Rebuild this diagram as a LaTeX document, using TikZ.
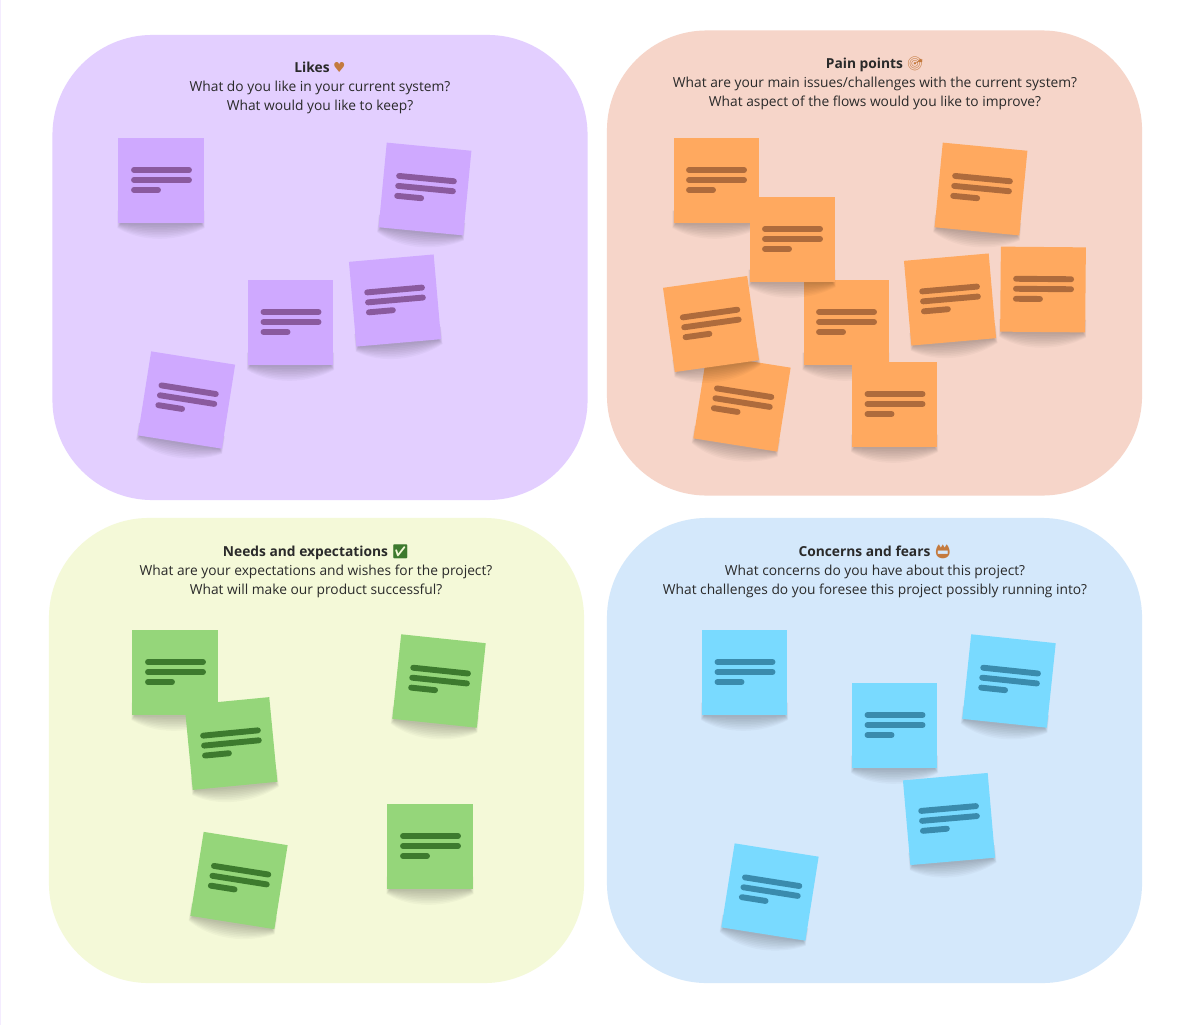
\documentclass[tikz,border=0pt]{standalone}
\usepackage{fontspec}
\setmainfont{Open Sans}
\newfontfamily\emojifont{Noto Emoji}
\newfontfamily\symbolfont{DejaVu Sans}
\definecolor{likesbg}{HTML}{E3CFFF}
\definecolor{likesnote}{HTML}{CFA9FF}
\definecolor{likesline}{HTML}{8A5A9E}
\definecolor{painbg}{HTML}{F6D5C9}
\definecolor{painnote}{HTML}{FFA95F}
\definecolor{painline}{HTML}{AE6B3C}
\definecolor{needsbg}{HTML}{F4F9D8}
\definecolor{needsnote}{HTML}{95D67A}
\definecolor{needsline}{HTML}{3D7A2E}
\definecolor{fearsbg}{HTML}{D4E8FB}
\definecolor{fearsnote}{HTML}{79DAFF}
\definecolor{fearsline}{HTML}{3A8BAD}
\definecolor{inktext}{HTML}{2A2A2A}
\definecolor{emojibrown}{HTML}{C47A3E}
\tikzset{
  panel/.style={minimum width=13.375cm,minimum height=11.625cm,rounded corners=2.5cm,inner sep=0pt},
  paneltext/.style={align=center,font=\fontsize{9.8}{13.5}\selectfont,text=inktext},
  stickynote/.style={minimum size=2.125cm,inner sep=0pt,transform shape},
  noteline/.style={line width=4.2pt,line cap=round}
}
% name, centre x, centre y, angle, colour family
\newcommand{\sticky}[5]{
  \begin{scope}[shift={(#2,#3)},rotate=#4]
    \foreach \spread in {1,...,9}
      \fill[black,opacity=0.028] (-40-\spread*0.4,30) -- (40+\spread*0.4,30) -- (40+\spread*0.4,43+\spread*0.5)
        .. controls (18,43+\spread*2) and (-18,43+\spread*2.2) .. (-40-\spread*0.4,43+\spread*0.5) -- cycle;
    \node[stickynote,fill=#5note] (#1) at (0,0) {};
    \draw[noteline,#5line] (-27,-10.5) -- (28,-10.5);
    \draw[noteline,#5line] (-27,-0.5) -- (28,-0.5);
    \draw[noteline,#5line] (-27,9.5) -- (-3,9.5);
  \end{scope}
}
\begin{document}
\begin{tikzpicture}[x=0.025cm,y=-0.025cm]
  \useasboundingbox (0,0) rectangle (1200,1025);
  \fill[white] (0,0) rectangle (1200,1025);
  \fill[likesbg!40] (0,0) rectangle (1,1025);

  \node[panel,fill=likesbg] (likes) at (320,267.5) {};
  \node[panel,fill=painbg] (pain) at (874.5,263) {};
  \node[panel,fill=needsbg] (needs) at (316.5,750.5) {};
  \node[panel,fill=fearsbg] (fears) at (874.5,750.5) {};

  \node[paneltext] (likestext) at (320,88) {\textbf{Likes} {\symbolfont\textcolor{emojibrown}{\symbol{"2665}}}\\
    What do you like in your current system?\\What would you like to keep?};
  \node[paneltext] (paintext) at (875,83) {\textbf{Pain points} {\emojifont\textcolor{emojibrown}{\symbol{"1F3AF}}}\\
    What are your main issues/challenges with the current system?\\What aspect of the flows would you like to improve?};
  \node[paneltext] (needstext) at (316,571) {\textbf{Needs and expectations} {\emojifont\textcolor{needsline}{\symbol{"2705}}}\\
    What are your expectations and wishes for the project?\\What will make our product successful?};
  \node[paneltext] (fearstext) at (875,571) {\textbf{Concerns and fears} {\emojifont\textcolor{emojibrown}{\symbol{"1F4DB}}}\\
    What concerns do you have about this project?\\What challenges do you foresee this project possibly running into?};

  % likes
  \sticky{likesa}{161}{180.5}{0}{likes}
  \sticky{likesb}{425}{189}{-5.5}{likes}
  \sticky{likesc}{290.5}{322.5}{0}{likes}
  \sticky{likesd}{395}{300.5}{5}{likes}
  \sticky{likese}{186.5}{400}{-9}{likes}

  % pain points
  \sticky{paina}{716}{180.5}{0}{pain}
  \sticky{painb}{981}{189}{-5.5}{pain}
  \sticky{painc}{846}{322.5}{0}{pain}
  \sticky{paind}{792}{239.5}{0}{pain}
  \sticky{paine}{950}{299.5}{5}{pain}
  \sticky{painf}{1043}{289.5}{-0.5}{pain}
  \sticky{paing}{742}{403}{-9}{pain}
  \sticky{painh}{711}{324}{8}{pain}
  \sticky{paini}{894.5}{404.5}{0}{pain}

  % needs
  \sticky{needsa}{175}{672.5}{0}{needs}
  \sticky{needsb}{231}{743.5}{5.5}{needs}
  \sticky{needsc}{439}{681}{-6}{needs}
  \sticky{needsd}{239}{880.5}{-9}{needs}
  \sticky{needse}{430}{846.5}{0}{needs}

  % concerns
  \sticky{fearsa}{744.5}{672.5}{0}{fears}
  \sticky{fearsb}{894.5}{725.5}{0}{fears}
  \sticky{fearsc}{1009}{681}{-6}{fears}
  \sticky{fearsd}{949}{819}{5}{fears}
  \sticky{fearse}{770}{892}{-9}{fears}
\end{tikzpicture}
\end{document}
